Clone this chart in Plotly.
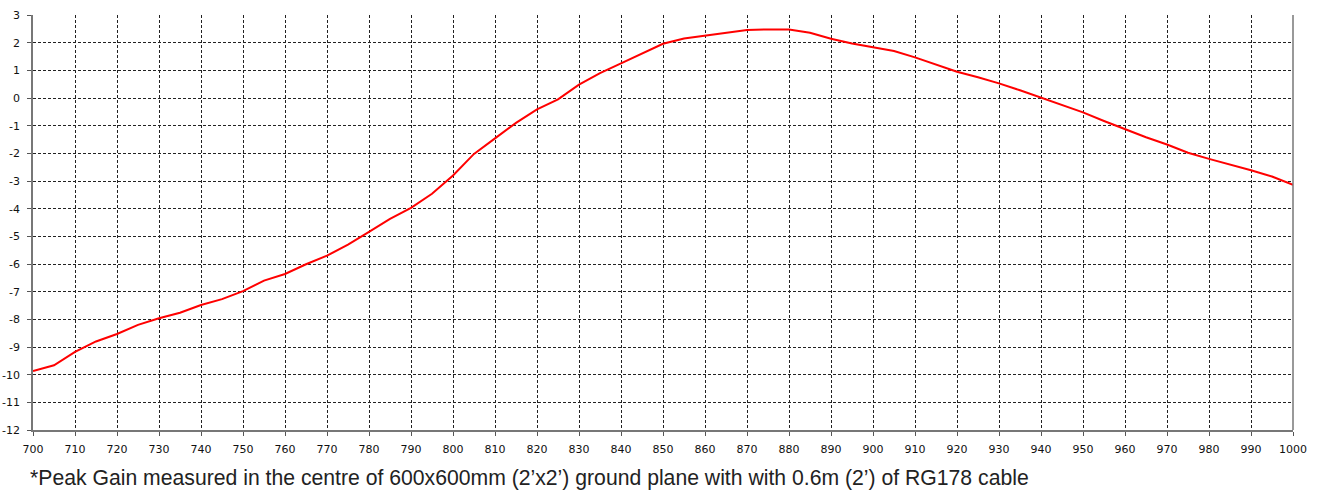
import plotly.graph_objects as go

freq_mhz = [700, 705, 710, 715, 720, 725, 730, 735, 740, 745, 750, 755, 760, 765, 770,
            775, 780, 785, 790, 795, 800, 805, 810, 815, 820, 825, 830, 835, 840, 845,
            850, 855, 860, 865, 870, 875, 880, 885, 890, 895, 900, 905, 910, 915, 920,
            925, 930, 935, 940, 945, 950, 955, 960, 965, 970, 975, 980, 985, 990, 995, 1000]
gain_dbi = [-9.87, -9.66, -9.18, -8.80, -8.53, -8.20, -7.96, -7.76, -7.48, -7.27, -6.98,
            -6.60, -6.36, -6.01, -5.70, -5.30, -4.84, -4.37, -3.97, -3.46, -2.80, -2.02,
            -1.46, -0.90, -0.41, -0.05, 0.48, 0.90, 1.25, 1.61, 1.96, 2.15, 2.26, 2.37,
            2.46, 2.48, 2.48, 2.36, 2.14, 1.97, 1.84, 1.70, 1.47, 1.22, 0.95, 0.75, 0.53,
            0.28, 0.02, -0.25, -0.52, -0.83, -1.13, -1.42, -1.68, -1.98, -2.20, -2.40,
            -2.61, -2.84, -3.14]

x_ticks = list(range(700, 1001, 10))
y_ticks = list(range(-12, 4))
footnote = "*Peak Gain measured in the centre of 600x600mm (2\u2019x2\u2019) ground plane with with 0.6m (2\u2019) of RG178 cable"

fig = go.Figure()
fig.add_trace(go.Scatter(x=freq_mhz, y=gain_dbi, mode="lines",
                         line=dict(color="#ff0000", width=2), showlegend=False,
                         hoverinfo="x+y"))

grid_common = dict(showgrid=True, gridcolor="#222222", gridwidth=1, griddash="3px,2px",
                   zeroline=False, ticks="outside", ticklen=4, tickcolor="#555555",
                   tickfont=dict(family="DejaVu Sans", size=11, color="#111111"),
                   showline=True, linecolor="#777777", linewidth=1.5, mirror=False,
                   automargin=False)

fig.update_xaxes(range=[700, 1000], tickvals=x_ticks, ticktext=[str(v) for v in x_ticks],
                 ticklabelstandoff=4, **grid_common)
fig.update_yaxes(range=[-12, 3], tickvals=y_ticks, ticktext=[str(v) for v in y_ticks],
                 ticklabelstandoff=5, **grid_common)

# right border line
fig.add_shape(type="line", xref="paper", yref="paper", x0=1, x1=1, y0=0, y1=1,
              line=dict(color="#777777", width=1.5))

fig.add_annotation(text=footnote, xref="paper", yref="paper", x=-0.004, y=0,
                   xanchor="left", yanchor="middle", yshift=-48, showarrow=False,
                   font=dict(family="Liberation Sans", size=21.2, color="#222222"))

fig.update_layout(width=1325, height=492, margin=dict(l=33, r=32, t=15, b=62),
                  paper_bgcolor="white", plot_bgcolor="white")

fig.write_html("out.html", config={"displayModeBar": False},
               post_script="document.body.style.margin='0';")
